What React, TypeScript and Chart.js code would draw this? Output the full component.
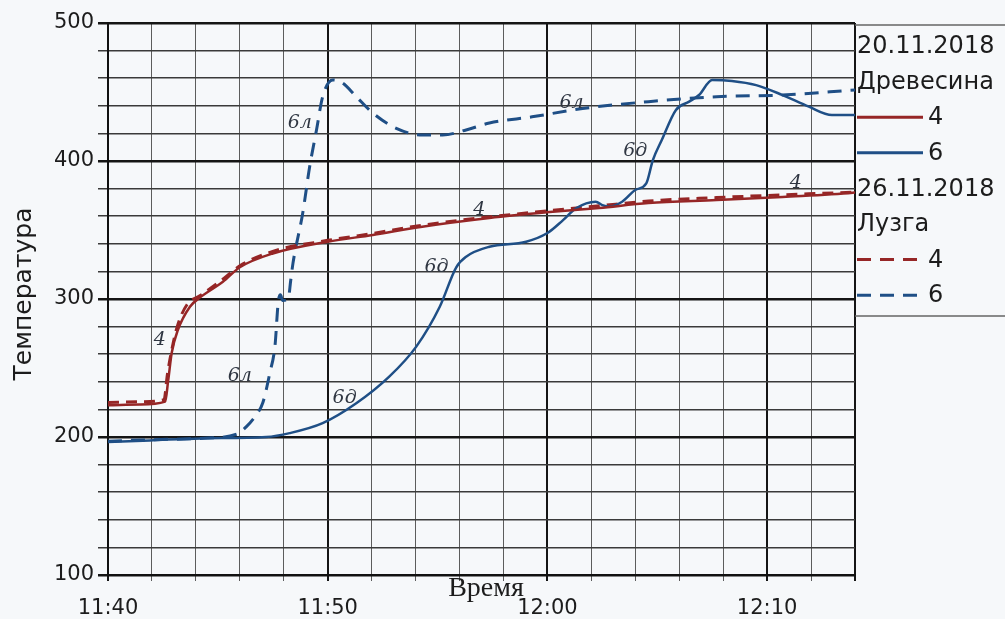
import React, { useEffect, useRef } from 'react';
import { Chart, registerables } from 'chart.js';

Chart.register(...registerables);

// time in minutes after 11:40
const woodT4 = [0, 1.45, 2.6, 2.74, 2.9, 3.18, 3.73, 4.18, 5.23, 6, 7.5, 10, 12.05, 14.3, 17.36, 20.1, 22.36, 24.6, 27.7, 30.7, 33.9, 34];
const woodV4 = [223, 223.5, 225.6, 241, 261, 277.5, 294.4, 301, 312.5, 323, 333, 341.5, 346.4, 352.4, 358.7, 363, 366, 369.5, 371.7, 374, 377, 377.2];

const woodT6 = [0, 1.9, 4.2, 7.2, 8.27, 9.77, 11.3, 12.8, 14.03, 15.1, 15.85, 16.3, 17.36, 19.03, 20, 20.7, 21.3, 22.2, 22.5, 22.8, 23.4, 24.0, 24.5, 24.8, 25.2, 25.85, 26.45, 26.9, 27.5, 28.4, 29.5, 30.7, 31.9, 32.95, 34];
const woodV6 = [196.4, 197.5, 199, 200, 202.8, 210, 224.4, 243.7, 265.5, 294.4, 323, 330.7, 337.9, 341.5, 347.8, 357, 365.7, 370.5, 368, 366.9, 370.5, 379, 383.8, 400.7, 415, 437, 443, 447.8, 458.7, 458, 455, 447.8, 439.4, 433.3, 433.3];

const huskT4 = [0, 1.45, 2.55, 2.7, 2.9, 3.15, 3.6, 4.2, 5.2, 6, 7.5, 10, 12.05, 14.3, 17.36, 20.1, 22.36, 24.6, 27.7, 30.7, 33.9, 34];
const huskV4 = [225, 225.5, 227, 245, 263, 280, 296, 302.5, 314, 324, 334.5, 342.5, 347.5, 353.5, 359.5, 364, 367.5, 371, 373.5, 375.5, 377.5, 377.6];

const huskT6 = [0, 1.9, 4.2, 5.85, 6.3, 6.7, 7.05, 7.36, 7.6, 7.75, 7.85, 7.95, 8.2, 8.32, 8.42, 8.86, 9.18, 9.49, 9.77, 10.23, 10.68, 11.3, 12.05, 13.12, 14.32, 15.23, 16.3, 17.36, 19.3, 21.6, 24.6, 27.7, 30.7, 34];
const huskV6 = [197, 198, 199, 202, 207.5, 215, 225, 246, 266, 298, 303, 299, 300, 314, 326, 362, 396, 422.5, 446.6, 458.7, 456.5, 446.6, 434.8, 423.7, 418.8, 418.8, 422.5, 427.5, 432, 438, 443, 446.6, 447.8, 451.5];

const timeTickValues = [0, 10, 20, 30];
const timeTickLabels = ['11:40', '11:50', '12:00', '12:10'];

const legendLabels = ['20.11.2018', 'Древесина', '4', '6', '26.11.2018', 'Лузга', '4', '6'];

const noteLabels = ['4', '6л', '6д', '6л', '6д', '4', '6л', '6д', '4'];
const noteT = [2.36, 6.0, 10.77, 8.73, 14.95, 16.9, 21.1, 24.0, 31.3];
const noteV = [270, 244, 228, 427.5, 323, 364.5, 442, 407, 384];

const RED = '#962626';
const BLUE = '#1f4f86';

const pts = (t: number[], v: number[]) => t.map((x, i) => ({ x, y: v[i] }));

const legendStyles: (null | { color: string; dash: number[] })[] = [
  null, null,
  { color: RED, dash: [] },
  { color: BLUE, dash: [] },
  null, null,
  { color: RED, dash: [14, 9] },
  { color: BLUE, dash: [14, 9] },
];

const decor = {
  id: 'decor',
  beforeDraw(chart: any) {
    const { ctx, width, height } = chart;
    ctx.save();
    ctx.fillStyle = '#f6f8fa';
    ctx.fillRect(0, 0, width, height);
    ctx.restore();
  },
  afterDraw(chart: any) {
    const { ctx, chartArea, scales } = chart;
    ctx.save();
    // handwritten notes
    ctx.font = 'italic 19px "DejaVu Serif"';
    ctx.fillStyle = '#2f3642';
    ctx.textAlign = 'center';
    ctx.textBaseline = 'middle';
    noteLabels.forEach((s, i) => {
      ctx.fillText(s, scales.x.getPixelForValue(noteT[i]), scales.y.getPixelForValue(noteV[i]));
    });
    // axis titles
    ctx.fillStyle = '#1c1c1c';
    ctx.save();
    ctx.translate(24, 294);
    ctx.rotate(-Math.PI / 2);
    ctx.font = '25px "DejaVu Sans"';
    ctx.fillText('Температура', 0, 0);
    ctx.restore();
    ctx.font = '28px "Liberation Serif"';
    ctx.fillText('Время', 486, 589);
    // legend
    const lx = chartArea.right;
    ctx.strokeStyle = '#666';
    ctx.lineWidth = 1.5;
    ctx.beginPath();
    ctx.moveTo(lx, 25);
    ctx.lineTo(1005, 25);
    ctx.moveTo(lx, 316);
    ctx.lineTo(1005, 316);
    ctx.stroke();
    ctx.font = '24px "DejaVu Sans"';
    ctx.textAlign = 'left';
    legendLabels.forEach((s, i) => {
      const y = 46 + i * 35.6;
      const st = legendStyles[i];
      if (st) {
        ctx.save();
        ctx.strokeStyle = st.color;
        ctx.lineWidth = 3;
        ctx.setLineDash(st.dash);
        ctx.beginPath();
        ctx.moveTo(lx + 2, y);
        ctx.lineTo(lx + 68, y);
        ctx.stroke();
        ctx.restore();
        ctx.fillText(s, lx + 73, y + 1);
      } else {
        ctx.fillText(s, lx + 2, y + 1);
      }
    });
    ctx.restore();
  },
};

export default function App() {
  const ref = useRef<HTMLCanvasElement | null>(null);
  useEffect(() => {
    if (!ref.current) return;
    const chart = new Chart(ref.current, {
      type: 'line',
      data: {
        datasets: [
          { label: 'Древесина 4', data: pts(woodT4, woodV4), borderColor: RED, borderWidth: 2.5 },
          { label: 'Древесина 6', data: pts(woodT6, woodV6), borderColor: BLUE, borderWidth: 2.5 },
          { label: 'Лузга 4', data: pts(huskT4, huskV4), borderColor: RED, borderWidth: 3, borderDash: [11, 7] },
          { label: 'Лузга 6', data: pts(huskT6, huskV6), borderColor: BLUE, borderWidth: 3, borderDash: [14, 9] },
        ] as any,
      },
      options: {
        animation: false,
        responsive: false,
        devicePixelRatio: 1,
        layout: { padding: { top: 23, right: 150, left: 0, bottom: 0 } },
        elements: {
          point: { radius: 0 },
          line: { cubicInterpolationMode: 'monotone', fill: false, borderJoinStyle: 'round', borderCapStyle: 'butt' },
        },
        plugins: { legend: { display: false }, tooltip: { enabled: false } },
        scales: {
          x: {
            type: 'linear',
            min: 0,
            max: 34,
            afterFit(s: any) { s.height = 44; },
            ticks: {
              stepSize: 2,
              autoSkip: false,
              maxRotation: 0,
              padding: 15,
              color: '#1c1c1c',
              font: { family: 'DejaVu Sans', size: 21 },
              callback: (v: any) => {
                const k = timeTickValues.indexOf(Number(v));
                return k >= 0 ? timeTickLabels[k] : '';
              },
            },
            grid: {
              color: (c: any) => (c.tick && (c.tick.value % 10 === 0 || c.tick.value === 34) ? '#151515' : '#5c5c5c'),
              lineWidth: (c: any) => (c.tick && (c.tick.value % 10 === 0 || c.tick.value === 34) ? 2 : 1),
              tickLength: 6,
            },
            border: { display: true, color: '#111', width: 2 },
          },
          y: {
            min: 100,
            max: 500,
            afterFit(s: any) { s.width = 108; },
            ticks: {
              stepSize: 20,
              autoSkip: false,
              padding: 4,
              color: '#1c1c1c',
              font: { family: 'DejaVu Sans', size: 21 },
              callback: (v: any) => (Number(v) % 100 === 0 ? String(v) : ''),
            },
            grid: {
              color: (c: any) => (c.tick && c.tick.value % 100 === 0 ? '#151515' : '#3a3a3a'),
              lineWidth: (c: any) => (c.tick && c.tick.value % 100 === 0 ? 2.5 : 1.5),
              tickLength: 10,
            },
            border: { display: true, color: '#111', width: 2 },
          },
        },
      } as any,
      plugins: [decor],
    });
    return () => chart.destroy();
  }, []);
  return (
    <canvas
      ref={ref}
      width={1005}
      height={619}
      style={{ position: 'absolute', left: 0, top: 0, width: 1005, height: 619, display: 'block' }}
    />
  );
}
